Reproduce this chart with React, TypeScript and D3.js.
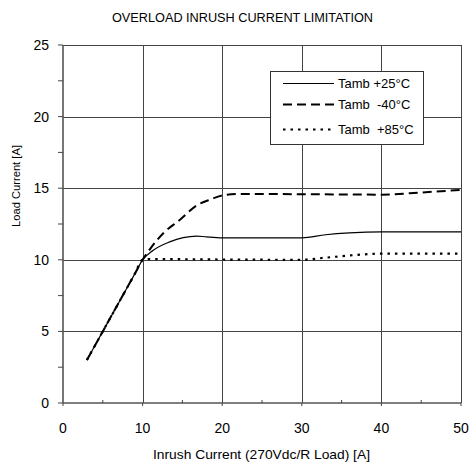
import React from "react";
import * as d3 from "d3";

// Overload inrush current limitation: load current vs inrush current, three ambient temperatures

const xTicks = [0, 10, 20, 30, 40, 50];
const yTicks = [0, 5, 10, 15, 20, 25];
const xMinor = [5, 15, 25, 35, 45];
const yMinor = [2.5, 7.5, 12.5, 17.5, 22.5];

const tamb25: [number, number][] = [
  [3, 3], [5, 5], [7, 7], [9, 9], [10, 10], [11.3, 10.65], [13.4, 11.25], [15.1, 11.55],
  [16.8, 11.66], [18, 11.6], [20, 11.53], [30, 11.53], [33, 11.75], [36, 11.88], [40, 11.95], [50, 11.95],
];
const tambM40: [number, number][] = [
  [3, 3], [5, 5], [7, 7], [9, 9], [10, 10], [11, 10.8], [12.6, 11.85], [14.7, 12.8], [16.8, 13.8],
  [18.7, 14.25], [20, 14.5], [22, 14.6], [30, 14.58], [40, 14.55], [45, 14.7], [50, 14.88],
];
const tamb85: [number, number][] = [
  [3, 3], [5, 5], [7, 7], [9, 9], [10, 10], [11, 10.05], [20, 10.02], [30, 10.0], [33, 10.15],
  [36, 10.3], [40, 10.43], [50, 10.43],
];

const series = [
  { label: "Tamb +25\u00B0C", data: tamb25, width: 1.2, dash: "none" },
  { label: "Tamb  -40\u00B0C", data: tambM40, width: 2, dash: "9,5" },
  { label: "Tamb  +85\u00B0C", data: tamb85, width: 2.2, dash: "2.5,5" },
];

const font = "'Liberation Sans', Arial, sans-serif";

export default function App() {
  const W = 469, H = 464;
  const margin = { top: 45, right: 8, bottom: 61, left: 63 };

  const x = d3.scaleLinear().domain([0, 50]).range([margin.left, W - margin.right]);
  const y = d3.scaleLinear().domain([0, 25]).range([H - margin.bottom, margin.top]);

  const line = d3.line<[number, number]>()
    .x(d => x(d[0]))
    .y(d => y(d[1]))
    .curve(d3.curveMonotoneX);

  const x0 = x(0), y0 = y(0);

  return (
    <svg width={W} height={H} style={{ position: "absolute", left: 0, top: 0 }} fontFamily={font}>
      <rect width={W} height={H} fill="#fff" />
      <text x={242.5} y={22} textAnchor="middle" fontSize={12.5} textLength={261} lengthAdjust="spacingAndGlyphs">
        OVERLOAD INRUSH CURRENT LIMITATION
      </text>

      {/* grid */}
      {xTicks.slice(1).map(t => (
        <line key={"gx" + t} x1={Math.round(x(t)) + 0.5} x2={Math.round(x(t)) + 0.5} y1={y(25)} y2={y0} stroke="#444" />
      ))}
      {yTicks.slice(1).map(t => (
        <line key={"gy" + t} x1={x0} x2={x(50)} y1={Math.round(y(t)) + 0.5} y2={Math.round(y(t)) + 0.5} stroke="#444" />
      ))}

      {/* axes */}
      <line x1={x0} x2={x0} y1={y(25)} y2={y0} stroke="#555" strokeWidth={1.6} />
      <line x1={x0} x2={x(50)} y1={y0} y2={y0} stroke="#555" strokeWidth={1.6} />
      {yTicks.concat(yMinor).map(t => (
        <line key={"ty" + t} x1={x0 - 5} x2={x0} y1={y(t)} y2={y(t)} stroke="#444" />
      ))}
      {xTicks.map(t => (
        <line key={"tx" + t} x1={x(t)} x2={x(t)} y1={y0} y2={y0 + 3} stroke="#444" />
      ))}
      {xMinor.map(t => (
        <line key={"tm" + t} x1={x(t)} x2={x(t)} y1={y0 - 3} y2={y0} stroke="#444" />
      ))}
      {yTicks.map(t => (
        <text key={"ly" + t} x={x0 - 14} y={y(t) + 5} textAnchor="end" fontSize={14}>{t}</text>
      ))}
      {xTicks.map(t => (
        <text key={"lx" + t} x={x(t)} y={y0 + 30} textAnchor="middle" fontSize={14}>{t}</text>
      ))}
      <text x={261.5} y={459} textAnchor="middle" fontSize={13} textLength={217} lengthAdjust="spacingAndGlyphs">
        Inrush Current (270Vdc/R Load) [A]
      </text>
      <text transform="translate(20,186) rotate(-90)" textAnchor="middle" fontSize={11} textLength={82} lengthAdjust="spacingAndGlyphs">
        Load Current [A]
      </text>

      {/* curves */}
      {series.map(s => (
        <path key={s.label} d={line(s.data) || ""} fill="none" stroke="#000" strokeWidth={s.width}
          strokeDasharray={s.dash === "none" ? undefined : s.dash} />
      ))}

      {/* legend */}
      <rect x={270.5} y={71.5} width={153} height={73} fill="#fff" stroke="#333" />
      {series.map((s, i) => {
        const ly = [83.5, 104.5, 129.5][i];
        return (
          <g key={"lg" + i}>
            <line x1={283} x2={334} y1={ly} y2={ly} stroke="#000" strokeWidth={s.width}
              strokeDasharray={s.dash === "none" ? undefined : s.dash} />
            <text x={338} y={ly + 4.5} fontSize={13} style={{ whiteSpace: "pre" }}>{s.label}</text>
          </g>
        );
      })}
    </svg>
  );
}
